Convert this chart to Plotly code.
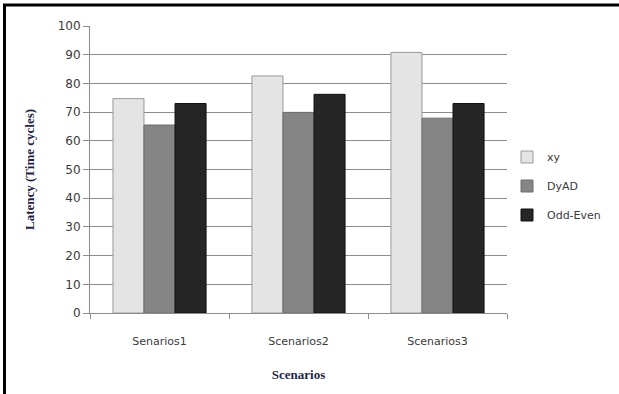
import plotly.graph_objects as go

categories = ["Senarios1", "Scenarios2", "Scenarios3"]
xy_latency = [74.7, 82.6, 90.8]
dyad_latency = [65.5, 69.9, 67.9]
odd_even_latency = [73.0, 76.2, 73.0]
y_ticks = list(range(0, 101, 10))

series = [
    ("xy", xy_latency, "#E4E4E4", "#9A9A9A"),
    ("DyAD", dyad_latency, "#858585", "#6E6E6E"),
    ("Odd-Even", odd_even_latency, "#262626", "#111111"),
]

W, H = 619, 394
ML, MR, MT, MB = 90, 112, 26, 81
PW, PH = W - ML - MR, H - MT - MB

fig = go.Figure()
for i, (name, vals, fill, edge) in enumerate(series):
    fig.add_trace(go.Bar(
        x=categories, y=vals, name=name,
        marker=dict(color=fill, line=dict(color=edge, width=1)),
        legendgroup=f"g{i}",
    ))

axis_font = dict(family="DejaVu Sans", size=11, color="#3A3A3A")
title_font = dict(family="Liberation Serif", size=13, color="#1F1F4A")


def px_x(px):
    return (px - ML) / PW


def px_y(py):
    return (H - MB - py) / PH


fig.update_layout(
    width=W, height=H,
    margin=dict(l=ML, r=MR, t=MT, b=MB, autoexpand=False),
    paper_bgcolor="white", plot_bgcolor="white",
    barmode="group", bargap=0.33, bargroupgap=0,
    legend=dict(
        x=px_x(507), y=px_y(186), xanchor="left", yanchor="middle",
        font=dict(family="DejaVu Sans", size=11, color="#3A3A3A"),
        tracegroupgap=10, itemwidth=30,
    ),
    xaxis=dict(
        type="category", tickson="boundaries", ticks="outside", ticklen=5,
        tickcolor="#8C8C8C", showline=True, linecolor="#8C8C8C", linewidth=1,
        tickfont=axis_font, ticklabelstandoff=18,
        title=dict(text="<b>Scenarios</b>", font=title_font, standoff=22),
        showgrid=False,
    ),
    yaxis=dict(
        range=[0, 100], tickvals=y_ticks, ticks="outside", ticklen=6,
        tickcolor="#8C8C8C", showline=True, linecolor="#8C8C8C", linewidth=1,
        gridcolor="#8C8C8C", gridwidth=1, tickfont=dict(axis_font, size=12),
        zeroline=False,
        title=dict(text="<b>Latency (Time cycles)</b>", font=title_font, standoff=20),
    ),
)

# Frame lines along the top and left edges of the page
fig.add_shape(type="line", xref="paper", yref="paper",
              x0=px_x(3), x1=px_x(W), y0=px_y(5), y1=px_y(5),
              line=dict(color="black", width=3))
fig.add_shape(type="line", xref="paper", yref="paper",
              x0=px_x(4.5), x1=px_x(4.5), y0=px_y(4), y1=px_y(H),
              line=dict(color="black", width=3))

fig.write_html("out.html")
